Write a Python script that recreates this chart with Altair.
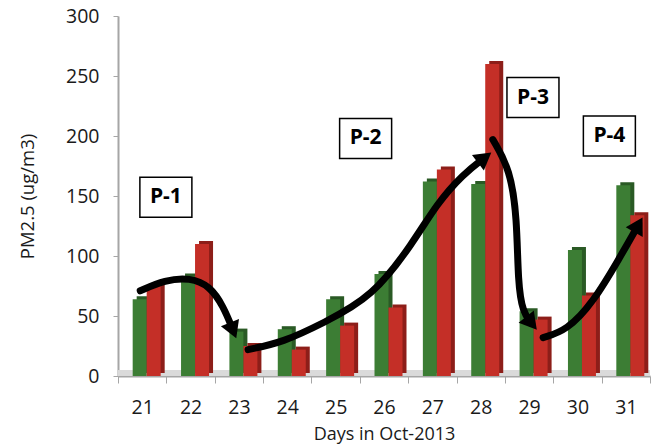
import math
import altair as alt
import pandas as pd

# ---------------- data ----------------
days = [21, 22, 23, 24, 25, 26, 27, 28, 29, 30, 31]
series_a = [64, 83, 37, 39, 64, 85, 162, 160, 54, 105, 159]   # green bars
series_b = [75, 110, 25, 22, 42, 57, 172, 260, 47, 67, 134]   # red bars

y_ticks = [0, 50, 100, 150, 200, 250, 300]

# trend arrows (day position, PM2.5 level)
arrow1_x = [20.96, 21.47, 21.99, 22.40, 22.68, 22.88]
arrow1_y = [71, 80, 82, 75, 58, 38]
arrow2_x = [23.19, 23.91, 24.74, 25.77, 26.60, 27.10, 27.63, 28.08]
arrow2_y = [22, 28, 44, 66, 111, 144, 168, 182]
arrow3_x = [28.25, 28.61, 28.75, 28.77, 28.87, 29.05]
arrow3_y = [197, 172, 132, 77, 53, 44]
arrow4_x = [29.29, 29.78, 30.32, 30.88, 31.26]
arrow4_y = [32, 38, 61, 99, 126]

# period labels
period_names = ["P-1", "P-2", "P-3", "P-4"]
period_x = [21.49, 25.62, 29.08, 30.66]
period_y = [149, 198, 232, 200]

# ---------------- layout constants ----------------
W, H = 532, 360
PX_X = W / 11.0   # px per day
PX_Y = H / 300.0  # px per unit

bars = pd.DataFrame({
    "day": days * 2,
    "value": series_a + series_b,
    "series": ["Series 1"] * len(days) + ["Series 2"] * len(days),
})

arrow_sets = [(arrow1_x, arrow1_y), (arrow2_x, arrow2_y),
              (arrow3_x, arrow3_y), (arrow4_x, arrow4_y)]
rows = []
heads = []
for aid, (xs, ys) in enumerate(arrow_sets):
    for i, (x, y) in enumerate(zip(xs, ys)):
        rows.append({"arrow": aid, "order": i, "x": x, "y": y})
    dx = (xs[-1] - xs[-2]) * PX_X
    dy = -(ys[-1] - ys[-2]) * PX_Y
    ang = math.degrees(math.atan2(dx, -dy)) % 360
    heads.append({"x": xs[-1], "y": ys[-1], "angle": ang})
arrows = pd.DataFrame(rows)
heads = pd.DataFrame(heads)

labels = pd.DataFrame({"name": period_names, "x": period_x, "y": period_y})

FONT = "Open Sans"

x_band = alt.X(
    "day:O",
    scale=alt.Scale(paddingInner=0, paddingOuter=0),
    axis=alt.Axis(
        title="Days in Oct-2013", labelAngle=0, tickBand="extent",
        domainColor="#a6a6a6", domainWidth=2, tickColor="#a6a6a6", tickSize=7,
        labelFontSize=19.5, labelFont=FONT, labelColor="#1a1a1a", labelPadding=15,
        titleFontSize=18, titleFont=FONT, titleFontWeight="normal",
        titleColor="#1a1a1a", titlePadding=9,
    ),
)
y_enc = alt.Y(
    "value:Q",
    scale=alt.Scale(domain=[0, 300], nice=False),
    axis=alt.Axis(
        title="PM2.5 (ug/m3)", values=y_ticks, grid=False,
        domainColor="#a6a6a6", domainWidth=2, tickColor="#a6a6a6", tickSize=5,
        labelFontSize=19.5, labelFont=FONT, labelColor="#1a1a1a", labelPadding=14,
        titleFontSize=18.5, titleFont=FONT, titleFontWeight="normal",
        titleColor="#1a1a1a", titlePadding=28,
    ),
)

base = alt.Chart(bars)

floor = base.mark_rule(color="#dadada", strokeWidth=5, yOffset=-3).encode(
    y=alt.datum(0, type="quantitative", scale=alt.Scale(domain=[0, 300], nice=False))
)


def bar_layers(series, off, front, side):
    src = base.transform_filter(alt.datum.series == series)
    back = src.mark_bar(width=14, xOffset=off + 4, yOffset=-3, y2Offset=-3,
                        color=side).encode(x=x_band, y=y_enc)
    face = src.mark_bar(width=14, xOffset=off, color=front).encode(x=x_band, y=y_enc)
    return [back, face]


bar_chart = alt.layer(
    floor,
    *bar_layers("Series 1", -2.5, "#3c7d34", "#2a5a25"),
    *bar_layers("Series 2", 11.5, "#c42f27", "#8d1e19"),
)

x_q = alt.X("x:Q", scale=alt.Scale(domain=[20.5, 31.5], nice=False, zero=False), axis=None)
y_q = alt.Y("y:Q", scale=alt.Scale(domain=[0, 300], nice=False), axis=None)

lines = alt.Chart(arrows).mark_line(
    color="black", strokeWidth=7, interpolate="basis", strokeCap="round"
).encode(x=x_q, y=y_q, detail="arrow:N", order="order:Q")

arrowheads = alt.Chart(heads).mark_point(
    shape="triangle-up", filled=True, color="black", size=380, opacity=1
).encode(x=x_q, y=y_q, angle=alt.Angle("angle:Q", scale=None))

boxes = alt.Chart(labels).mark_point(
    shape="M-1,-0.77L1,-0.77L1,0.77L-1,0.77Z", size=2704, filled=True,
    fill="white", stroke="black", strokeWidth=1.5, opacity=1, fillOpacity=1,
).encode(x=x_q, y=y_q)

texts = alt.Chart(labels).mark_text(
    font=FONT, fontSize=21, fontWeight="bold", color="black", baseline="middle"
).encode(x=x_q, y=y_q, text="name:N")

overlay = alt.layer(lines, arrowheads, boxes, texts)

chart = alt.layer(bar_chart, overlay).resolve_scale(
    x="independent"
).resolve_axis(y="independent").properties(
    width=W, height=H,
    padding={"left": 118, "top": 16, "right": 17, "bottom": 71},
    autosize=alt.AutoSizeParams(type="none"),
    background="white",
).configure_view(stroke=None)

chart.save("out.html", embed_options={"renderer": "svg", "actions": False})
